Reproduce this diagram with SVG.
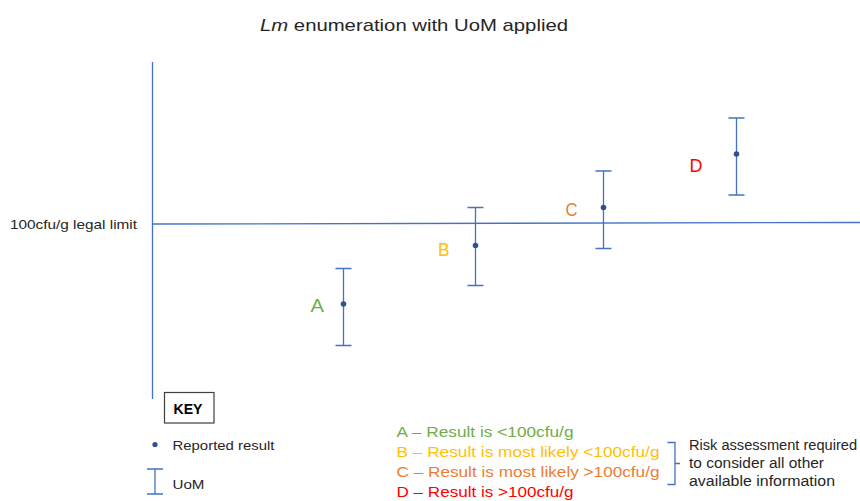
<svg xmlns="http://www.w3.org/2000/svg" width="860" height="501" viewBox="0 0 860 501">
<defs>
<style>
text{font-family:"Liberation Sans",Arial,sans-serif;}
.ln{stroke:#4472C4;stroke-width:1.3;fill:none;}
.dot{fill:#2F528F;}
.lbl{font-size:19px;}
.leg{font-size:14px;}
.dark{fill:#262626;}
</style>
</defs>
<rect width="860" height="501" fill="#ffffff"/>
<text x="260" y="31" font-size="17" class="dark" textLength="308" lengthAdjust="spacingAndGlyphs"><tspan font-style="italic">Lm</tspan> enumeration with UoM applied</text>

<g id="axes">
<line class="ln" x1="152.5" y1="62" x2="152.5" y2="399"/>
<line class="ln" x1="152" y1="224" x2="860" y2="222.5"/>
</g>
<text x="10" y="228.5" font-size="13.5" class="dark" textLength="127" lengthAdjust="spacingAndGlyphs">100cfu/g legal limit</text>

<g id="barA">
<path class="ln" d="M343.5 268.5V345.5M335.5 268.5H351.5M335.5 345.5H351.5"/>
<circle class="dot" cx="343.5" cy="304" r="2.8"/>
<text x="310.5" y="311.5" class="lbl" fill="#70AD47" textLength="13.5" lengthAdjust="spacingAndGlyphs">A</text>
</g>
<g id="barB">
<path class="ln" d="M475.5 207.5V285.5M467.5 207.5H483.5M467.5 285.5H483.5"/>
<circle class="dot" cx="475.5" cy="245.5" r="2.8"/>
<text x="438" y="255.5" class="lbl" fill="#FFC000" textLength="11.5" lengthAdjust="spacingAndGlyphs">B</text>
</g>
<g id="barC">
<path class="ln" d="M603.5 171V248.5M595.5 171H611.5M595.5 248.5H611.5"/>
<circle class="dot" cx="603.5" cy="207.5" r="2.8"/>
<text x="565.5" y="216" class="lbl" fill="#ED7D31" textLength="12" lengthAdjust="spacingAndGlyphs">C</text>
</g>
<g id="barD">
<path class="ln" d="M736.5 118V195M728.5 118H744.5M728.5 195H744.5"/>
<circle class="dot" cx="736.5" cy="154" r="2.8"/>
<text x="689.5" y="171.5" class="lbl" fill="#FF0000" textLength="13" lengthAdjust="spacingAndGlyphs">D</text>
</g>

<g id="key">
<rect x="164.5" y="392.5" width="49.5" height="30.5" fill="#ffffff" stroke="#404040" stroke-width="1.2"/>
<text x="173.5" y="413.5" font-size="14" font-weight="bold" fill="#000000" textLength="29" lengthAdjust="spacingAndGlyphs">KEY</text>
<circle class="dot" cx="155" cy="444.5" r="2.6" fill="#4472C4"/>
<text x="172.5" y="450" font-size="13.5" class="dark" textLength="102" lengthAdjust="spacingAndGlyphs">Reported result</text>
<path class="ln" d="M155 469V494M147 469H163M147 494H163"/>
<text x="172.5" y="488.5" font-size="13.5" class="dark" textLength="32" lengthAdjust="spacingAndGlyphs">UoM</text>
</g>

<g id="legend">
<text x="396.5" y="437.3" class="leg" fill="#70AD47" textLength="177" lengthAdjust="spacingAndGlyphs">A – Result is &lt;100cfu/g</text>
<text x="396.5" y="457.3" class="leg" fill="#FFC000" textLength="263" lengthAdjust="spacingAndGlyphs">B – Result is most likely &lt;100cfu/g</text>
<text x="396.5" y="477.3" class="leg" fill="#ED7D31" textLength="263" lengthAdjust="spacingAndGlyphs">C – Result is most likely &gt;100cfu/g</text>
<text x="396.5" y="497" class="leg" fill="#FF0000" textLength="177" lengthAdjust="spacingAndGlyphs">D – Result is &gt;100cfu/g</text>
</g>

<g id="note">
<path class="ln" d="M667.5 442.5H675V484.5H667.5M675 463.5H680"/>
<text x="689" y="450" font-size="14" class="dark" textLength="168" lengthAdjust="spacingAndGlyphs">Risk assessment required</text>
<text x="689" y="467.8" font-size="14" class="dark" textLength="135" lengthAdjust="spacingAndGlyphs">to consider all other</text>
<text x="689" y="485.5" font-size="14" class="dark" textLength="146" lengthAdjust="spacingAndGlyphs">available information</text>
</g>
</svg>
